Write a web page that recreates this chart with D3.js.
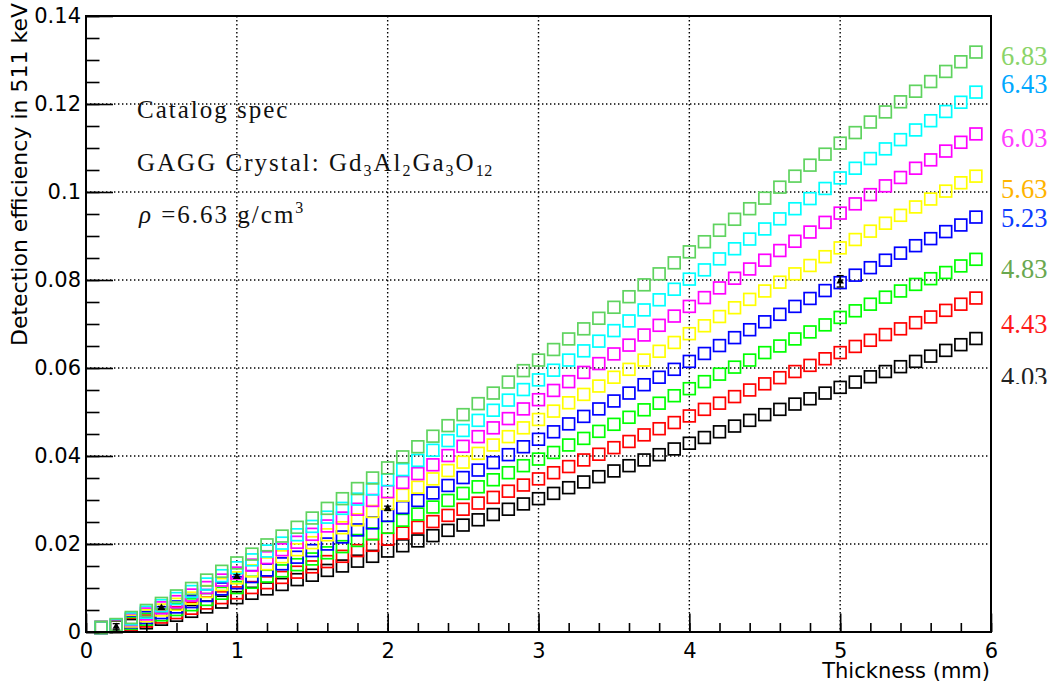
<!DOCTYPE html>
<html>
<head>
<meta charset="utf-8">
<title>GAGG detection efficiency</title>
<style>
  body { margin: 0; background: #fff; }
</style>
</head>
<body>
<svg id="main" width="1058" height="686"></svg>
<script src="https://cdn.jsdelivr.net/npm/d3@7.0.1/dist/d3.min.js"></script>
<script>
// crystal thickness (mm)
const thickness = [
  0.1, 0.2, 0.3, 0.4, 0.5, 0.6, 0.7, 0.8, 0.9, 1.0,
  1.1, 1.2, 1.3, 1.4, 1.5, 1.6, 1.7, 1.8, 1.9, 2.0,
  2.1, 2.2, 2.3, 2.4, 2.5, 2.6, 2.7, 2.8, 2.9, 3.0,
  3.1, 3.2, 3.3, 3.4, 3.5, 3.6, 3.7, 3.8, 3.9, 4.0,
  4.1, 4.2, 4.3, 4.4, 4.5, 4.6, 4.7, 4.8, 4.9, 5.0,
  5.1, 5.2, 5.3, 5.4, 5.5, 5.6, 5.7, 5.8, 5.9
]

// efficiency for each density (g/cm3)
const eff403 = [
  .0010, .0012, .0015, .0021, .0029, .0038, .0047, .0057, .0068, .0078,
  .0088, .0098, .0108, .0119, .0129, .0140, .0150, .0161, .0172, .0184,
  .0196, .0207, .0219, .0231, .0243, .0255, .0267, .0279, .0291, .0303,
  .0315, .0328, .0341, .0353, .0366, .0378, .0391, .0403, .0416, .0429,
  .0442, .0455, .0468, .0481, .0494, .0506, .0518, .0530, .0543, .0556,
  .0568, .0580, .0592, .0603, .0615, .0627, .0640, .0653, .0667
]
const eff443 = [
  .0010, .0013, .0018, .0025, .0034, .0044, .0054, .0066, .0078, .0089,
  .0101, .0112, .0124, .0136, .0148, .0160, .0172, .0185, .0197, .0211,
  .0225, .0238, .0251, .0265, .0279, .0293, .0306, .0320, .0334, .0348,
  .0362, .0376, .0391, .0404, .0419, .0433, .0448, .0462, .0476, .0491,
  .0506, .0520, .0535, .0550, .0564, .0578, .0592, .0606, .0621, .0635,
  .0649, .0663, .0676, .0689, .0703, .0716, .0731, .0745, .0759
]
const eff483 = [
  .0010, .0013, .0020, .0029, .0039, .0051, .0062, .0074, .0088, .0101,
  .0113, .0127, .0139, .0153, .0166, .0180, .0194, .0208, .0223, .0238,
  .0254, .0268, .0284, .0299, .0315, .0330, .0346, .0362, .0378, .0393,
  .0408, .0425, .0440, .0456, .0472, .0488, .0505, .0520, .0537, .0553,
  .0569, .0586, .0602, .0618, .0635, .0650, .0666, .0682, .0698, .0715,
  .0730, .0745, .0761, .0775, .0790, .0803, .0817, .0832, .0847
]
const eff523 = [
  .0010, .0014, .0023, .0033, .0044, .0057, .0069, .0083, .0098, .0112,
  .0126, .0141, .0155, .0170, .0185, .0200, .0216, .0232, .0248, .0265,
  .0283, .0299, .0316, .0333, .0351, .0368, .0385, .0403, .0421, .0438,
  .0455, .0473, .0490, .0507, .0525, .0543, .0562, .0579, .0597, .0615,
  .0633, .0651, .0669, .0687, .0705, .0722, .0740, .0758, .0776, .0794,
  .0811, .0828, .0845, .0861, .0878, .0894, .0910, .0925, .0943
]
const eff563 = [
  .0010, .0015, .0025, .0037, .0050, .0063, .0077, .0092, .0108, .0123,
  .0139, .0155, .0171, .0187, .0203, .0221, .0237, .0255, .0274, .0292,
  .0311, .0329, .0348, .0367, .0386, .0406, .0425, .0444, .0464, .0483,
  .0502, .0521, .0540, .0559, .0579, .0597, .0618, .0638, .0658, .0678,
  .0696, .0717, .0737, .0756, .0775, .0795, .0814, .0833, .0853, .0873,
  .0892, .0911, .0929, .0947, .0966, .0984, .1002, .1021, .1036
]
const eff603 = [
  .0010, .0015, .0028, .0041, .0055, .0069, .0084, .0101, .0118, .0134,
  .0152, .0169, .0187, .0204, .0222, .0241, .0259, .0279, .0299, .0319,
  .0340, .0360, .0380, .0401, .0422, .0444, .0464, .0485, .0507, .0528,
  .0549, .0569, .0590, .0610, .0632, .0652, .0675, .0697, .0718, .0740,
  .0760, .0782, .0804, .0825, .0845, .0867, .0888, .0909, .0931, .0952,
  .0973, .0994, .1014, .1033, .1054, .1073, .1093, .1113, .1132
]
const eff643 = [
  .0010, .0016, .0030, .0045, .0060, .0076, .0092, .0109, .0128, .0146,
  .0164, .0184, .0202, .0221, .0240, .0261, .0281, .0302, .0325, .0346,
  .0369, .0390, .0413, .0435, .0458, .0481, .0504, .0527, .0551, .0573,
  .0595, .0618, .0639, .0661, .0685, .0707, .0732, .0755, .0779, .0802,
  .0823, .0848, .0871, .0893, .0916, .0939, .0962, .0985, .1008, .1032,
  .1054, .1076, .1098, .1119, .1141, .1162, .1183, .1204, .1227
]
const eff683 = [
  .0010, .0017, .0033, .0049, .0065, .0082, .0099, .0118, .0138, .0157,
  .0177, .0198, .0218, .0238, .0259, .0281, .0303, .0326, .0350, .0373,
  .0398, .0421, .0445, .0469, .0494, .0519, .0543, .0568, .0594, .0618,
  .0642, .0666, .0689, .0713, .0738, .0762, .0789, .0814, .0839, .0864,
  .0887, .0913, .0938, .0962, .0986, .1011, .1036, .1061, .1086, .1111,
  .1135, .1159, .1182, .1205, .1229, .1251, .1274, .1296, .1318
]
const densities = ['4.03', '4.43', '4.83', '5.23', '5.63', '6.03', '6.43', '6.83']
// where each density label sits, in efficiency units
const labelAt = [0.0559, 0.0680, 0.0805, 0.0920, 0.0986, 0.1102, 0.1225, 0.1289]

// measured points
const measX = [0.2, 0.5, 1.0, 2.0, 5.0]
const measY = [0.0012, 0.0055, 0.0126, 0.0281, 0.0797]
const measErr = [0.0007, 0.0003, 0.0004, 0.0005, 0.0013]

const xTicks = [0, 1, 2, 3, 4, 5, 6]
const yTicks = [0, 0.02, 0.04, 0.06, 0.08, 0.1, 0.12, 0.14]

const allEff = [eff403, eff443, eff483, eff523, eff563, eff603, eff643, eff683]
const markerColor = ['#000000', '#ff0000', '#00ff00', '#0000ff', '#ffff00', '#ff00ff', '#00ffff', '#5fd35f']
const labelColor = ['#222222', '#ff1a1a', '#6aa84f', '#0a3cff', '#ffb400', '#ff40ff', '#00a8ff', '#8ad468']

const svg = d3.select('#main')
const width = +svg.attr('width')
const height = +svg.attr('height')
const margin = { top: 16, right: 67, bottom: 54, left: 86 }
const innerWidth = width - margin.left - margin.right
const innerHeight = height - margin.top - margin.bottom

const g = svg.append('g').attr('transform', `translate(${margin.left}, ${margin.top})`)

const xScale = d3.scaleLinear().domain([0, 6]).range([0, innerWidth])
const yScale = d3.scaleLinear().domain([0, 0.14]).range([innerHeight, 0])

// dotted grid
const grid = g.append('g').attr('stroke', '#000').attr('stroke-width', 1.4)
  .attr('stroke-dasharray', '1.4 2.6')
grid.selectAll('.gx').data(xTicks.slice(1, -1)).join('line')
  .attr('x1', d => xScale(d)).attr('x2', d => xScale(d))
  .attr('y1', 0).attr('y2', innerHeight)
grid.selectAll('.gy').data(yTicks.slice(1, -1)).join('line')
  .attr('y1', d => yScale(d)).attr('y2', d => yScale(d))
  .attr('x1', 0).attr('x2', innerWidth)

// open squares per density
const sq = 11.8
allEff.forEach((vals, i) => {
  g.append('g').selectAll('rect')
    .data(thickness.map((t, j) => ({ x: t, y: vals[j] })))
    .join('rect')
    .attr('x', d => xScale(d.x) - sq / 2)
    .attr('y', d => yScale(d.y) - sq / 2)
    .attr('width', sq).attr('height', sq)
    .attr('fill', 'none')
    .attr('stroke', markerColor[i])
    .attr('stroke-width', 1.7)
})

// measurements with error bars
const meas = measX.map((x, i) => ({ x, y: measY[i], e: measErr[i] }))
const mg = g.append('g').attr('stroke', '#000').attr('stroke-width', 1.3)
mg.selectAll('.err').data(meas).join('line')
  .attr('x1', d => xScale(d.x)).attr('x2', d => xScale(d.x))
  .attr('y1', d => yScale(d.y - d.e)).attr('y2', d => yScale(d.y + d.e))
mg.selectAll('.capLo').data(meas).join('line')
  .attr('x1', d => xScale(d.x) - 3.5).attr('x2', d => xScale(d.x) + 3.5)
  .attr('y1', d => yScale(d.y - d.e)).attr('y2', d => yScale(d.y - d.e))
mg.selectAll('.capHi').data(meas).join('line')
  .attr('x1', d => xScale(d.x) - 3.5).attr('x2', d => xScale(d.x) + 3.5)
  .attr('y1', d => yScale(d.y + d.e)).attr('y2', d => yScale(d.y + d.e))
mg.selectAll('path').data(meas).join('path')
  .attr('d', d3.symbol(d3.symbolTriangle).size(24))
  .attr('transform', d => `translate(${xScale(d.x)}, ${yScale(d.y)})`)
  .attr('fill', '#000').attr('stroke', 'none')

// axes, ticks pointing inward
const yMinor = d3.range(0, 0.1401, 0.005)
const xMinor = d3.range(0, 6.001, 0.2)
g.append('g').call(d3.axisLeft(yScale).tickValues(yMinor).tickSizeInner(-13.5).tickSizeOuter(0).tickFormat(''))
g.append('g').call(d3.axisBottom(xScale).tickValues(xMinor).tickSizeInner(-9).tickSizeOuter(0).tickFormat(''))
  .attr('transform', `translate(0, ${innerHeight})`)
g.append('g').call(d3.axisLeft(yScale).tickValues(yTicks).tickSizeInner(-27).tickSizeOuter(0)
  .tickPadding(5).tickFormat(d => d === 0 ? '0' : d3.format('.2~f')(d)))
g.append('g').call(d3.axisBottom(xScale).tickValues(xTicks).tickSizeInner(-18.5).tickSizeOuter(0)
  .tickPadding(11).tickFormat(d3.format('d')))
  .attr('transform', `translate(0, ${innerHeight})`)
g.selectAll('.domain').remove()
g.selectAll('.tick line').attr('stroke', '#000').attr('stroke-width', 1.6)
g.selectAll('.tick text').attr('font-family', 'DejaVu Sans').attr('font-size', 21).attr('fill', '#000')

// frame
g.append('rect').attr('width', innerWidth).attr('height', innerHeight)
  .attr('fill', 'none').attr('stroke', '#000').attr('stroke-width', 2)

// axis titles
svg.append('text').text('Detection efficiency in 511 keV')
  .attr('transform', 'translate(27, 3) rotate(-90)')
  .attr('text-anchor', 'end').attr('font-family', 'DejaVu Sans').attr('font-size', 22)
svg.append('text').text('Thickness (mm)')
  .attr('x', 990).attr('y', 678)
  .attr('text-anchor', 'end').attr('font-family', 'DejaVu Sans').attr('font-size', 21)

// density labels at the right (the lowest one is cut off in the original)
svg.append('clipPath').attr('id', 'lblclip')
  .append('rect').attr('x', 0).attr('y', 0).attr('width', width).attr('height', 384)
svg.append('g').attr('clip-path', 'url(#lblclip)')
  .selectAll('text').data(densities).join('text')
  .text(d => d)
  .attr('x', 1001)
  .attr('y', (d, i) => margin.top + yScale(labelAt[i]))
  .attr('fill', (d, i) => labelColor[i])
  .attr('font-family', 'Liberation Serif').attr('font-size', 26.5)

// annotation
const note = svg.append('g').attr('font-family', 'Liberation Serif').attr('font-size', 25)
  .attr('letter-spacing', 2).attr('fill', '#111')
note.append('text').attr('x', 137).attr('y', 118).text('Catalog spec')
const l2 = note.append('text').attr('x', 137).attr('y', 171)
l2.append('tspan').text('GAGG Crystal: Gd')
l2.append('tspan').text('3').attr('font-size', 16).attr('dy', 5)
l2.append('tspan').text('Al').attr('dy', -5)
l2.append('tspan').text('2').attr('font-size', 16).attr('dy', 5)
l2.append('tspan').text('Ga').attr('dy', -5)
l2.append('tspan').text('3').attr('font-size', 16).attr('dy', 5)
l2.append('tspan').text('O').attr('dy', -5)
l2.append('tspan').text('12').attr('font-size', 16).attr('dy', 5).attr('letter-spacing', 0.5)
const l3 = note.append('text').attr('x', 139).attr('y', 223)
l3.append('tspan').text('ρ').attr('font-style', 'italic')
l3.append('tspan').text(' =6.63 g/cm')
l3.append('tspan').text('3').attr('font-size', 16).attr('dy', -10)
</script>
</body>
</html>
